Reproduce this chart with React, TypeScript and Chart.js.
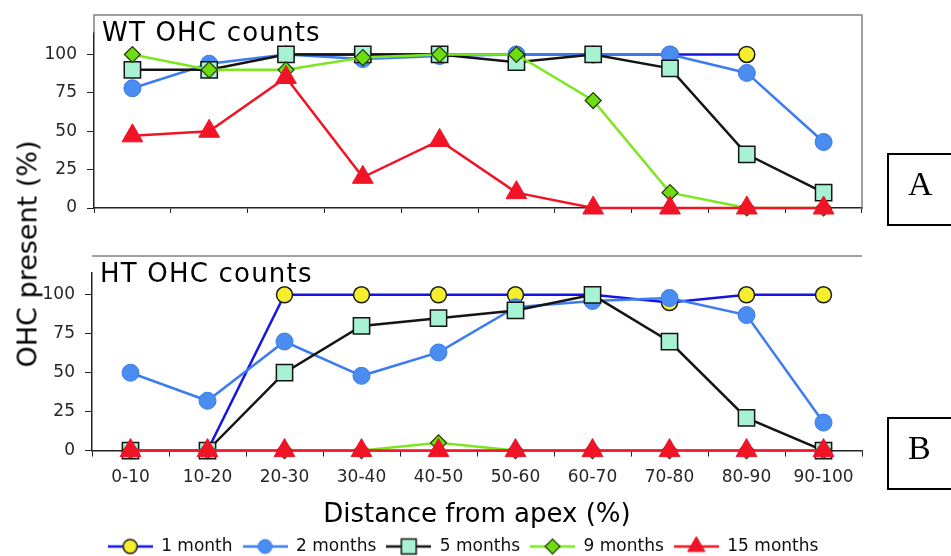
import React, { useEffect, useRef } from 'react';
import { Chart, registerables } from 'chart.js';
import { drawPoint } from 'chart.js/helpers';

Chart.register(...registerables);

// ---------- data ----------
const categories = ['0-10', '10-20', '20-30', '30-40', '40-50', '50-60', '60-70', '70-80', '80-90', '90-100'];
const seriesNames = ['1 month', '2 months', '5 months', '9 months', '15 months'];
const yTicks = [0, 25, 50, 75, 100];

// WT OHC counts (panel A)
const wt1m = [null, null, 100, 100, 100, 100, 100, 100, 100, null];
const wt2m = [78, 94, 100, 97, 99, 100, 100, 100, 88, 43];
const wt5m = [90, 90, 100, 100, 100, 95, 100, 91, 35, 10];
const wt9m = [100, 90, 90, 98, 100, 100, 70, 10, 0, 0];
const wt15m = [47, 50, 85, 20, 44, 10, 0, 0, 0, 0];

// HT OHC counts (panel B)
const ht1m = [0, 0, 100, 100, 100, 100, 100, 95, 100, 100];
const ht2m = [50, 32, 70, 48, 63, 92, 96, 98, 87, 18];
const ht5m = [0, 0, 50, 80, 85, 90, 100, 70, 21, 0];
const ht9m = [0, 0, 0, 0, 5, 0, 0, 0, 0, 0];
const ht15m = [0, 0, 0, 0, 0, 0, 0, 0, 0, 0];

const FAMILY = '"DejaVu Sans", sans-serif';

const styles = [
  { line: '#1414e6', fill: '#f4ee2c', border: '#1a1a1a', shape: 'circle', r: 8, bw: 1.5, lr: 7 },
  { line: '#3c7cf0', fill: '#4a8cf0', border: '#3a7ae8', shape: 'circle', r: 8.5, bw: 1, lr: 7 },
  { line: '#141414', fill: '#a6f2d2', border: '#141414', shape: 'rect', r: 11.5, bw: 1.5, lr: 10.5 },
  { line: '#7ce61e', fill: '#6edc10', border: '#1e3a08', shape: 'rectRot', r: 8, bw: 1.2, lr: 7.5 },
  { line: '#f01426', fill: '#f01426', border: '#f01426', shape: 'triangle', r: 12, bw: 1, lr: 10 },
];

function makeDatasets(values: (number | null)[][]) {
  return values.map((data, i) => ({
    label: seriesNames[i],
    data,
    borderColor: styles[i].line,
    backgroundColor: styles[i].fill,
    borderWidth: 2.5,
    pointStyle: styles[i].shape,
    pointRadius: styles[i].r,
    pointHoverRadius: styles[i].r,
    pointBackgroundColor: styles[i].fill,
    pointBorderColor: styles[i].border,
    pointBorderWidth: styles[i].bw,
    order: 5 - i,
    clip: false,
    tension: 0,
    fill: false,
  }));
}

function makeIcon(i: number) {
  const c = document.createElement('canvas');
  c.width = 45;
  c.height = 24;
  const ctx = c.getContext('2d')!;
  const s = styles[i];
  ctx.strokeStyle = s.line;
  ctx.lineWidth = 2.5;
  ctx.beginPath();
  ctx.moveTo(0, 12);
  ctx.lineTo(45, 12);
  ctx.stroke();
  ctx.fillStyle = s.fill;
  ctx.strokeStyle = s.border;
  ctx.lineWidth = s.bw;
  drawPoint(ctx, { pointStyle: s.shape as any, radius: s.lr, rotation: 0, borderWidth: s.bw }, 22.5, 12);
  return c;
}

function panelPlugin(title: string, mode: 'box' | 'line', gap: number) {
  return {
    id: 'panelDeco',
    afterDraw(chart: any) {
      const { ctx, chartArea: a } = chart;
      const top = a.top - gap;
      ctx.save();
      ctx.strokeStyle = '#808080';
      ctx.lineWidth = 1.5;
      ctx.beginPath();
      if (mode === 'box') {
        ctx.moveTo(a.left, a.top);
        ctx.lineTo(a.left, top);
        ctx.lineTo(a.right, top);
        ctx.lineTo(a.right, a.bottom);
      } else {
        ctx.moveTo(a.left, top);
        ctx.lineTo(a.right, top);
      }
      ctx.stroke();
      ctx.fillStyle = '#000';
      ctx.font = `26px ${FAMILY}`;
      (ctx as any).letterSpacing = '1.2px';
      ctx.textAlign = 'left';
      ctx.textBaseline = 'alphabetic';
      ctx.fillText(title, a.left + 8, top + 26);
      ctx.restore();
    },
  };
}

// nudges the legend box sideways so it sits where the reference legend sits
const legendShift = {
  id: 'legendShift',
  afterLayout(chart: any) {
    if (chart.legend) {
      chart.legend.left += 11;
      chart.legend.right += 11;
    }
  },
};

function yScale() {
  return {
    min: 0,
    max: 114,
    afterBuildTicks: (s: any) => {
      s.ticks = yTicks.map((v) => ({ value: v }));
    },
    afterFit: (s: any) => {
      s.width = 50;
    },
    ticks: { font: { family: FAMILY, size: 17 }, color: '#262626', padding: 10 },
    grid: { display: true, drawOnChartArea: false, drawTicks: true, tickLength: 7, color: '#222' },
    border: { display: true, color: '#222', width: 1.5 },
  };
}

export default function App() {
  const topRef = useRef<HTMLCanvasElement>(null);
  const botRef = useRef<HTMLCanvasElement>(null);

  useEffect(() => {
    const top = new Chart(topRef.current!, {
      type: 'line',
      data: { labels: categories, datasets: makeDatasets([wt1m, wt2m, wt5m, wt9m, wt15m]) as any },
      options: {
        responsive: false,
        animation: false,
        events: [],
        layout: { padding: { left: 44, right: 89, top: 33, bottom: 17 } },
        plugins: { legend: { display: false }, tooltip: { enabled: false }, title: { display: false } },
        scales: {
          x: {
            type: 'category',
            offset: true,
            ticks: { display: false },
            grid: { display: true, offset: true, drawOnChartArea: false, drawTicks: true, tickLength: 5, color: '#222' },
            border: { display: true, color: '#222', width: 1.5 },
          },
          y: yScale() as any,
        },
      },
      plugins: [panelPlugin('WT OHC counts', 'box', 18)],
    });

    const icons = styles.map((_, i) => makeIcon(i));

    const bottom = new Chart(botRef.current!, {
      type: 'line',
      data: { labels: categories, datasets: makeDatasets([ht1m, ht2m, ht5m, ht9m, ht15m]) as any },
      options: {
        responsive: false,
        animation: false,
        events: [],
        layout: { padding: { left: 42, right: 89, top: 33, bottom: 0 } },
        plugins: {
          tooltip: { enabled: false },
          title: { display: false },
          legend: {
            display: true,
            position: 'bottom',
            labels: {
              usePointStyle: true,
              pointStyleWidth: 45,
              padding: 10,
              color: '#111',
              font: { family: FAMILY, size: 17 },
              generateLabels: (chart: any) =>
                chart.data.datasets.map((ds: any, i: number) => ({
                  text: ds.label,
                  pointStyle: icons[i],
                  fillStyle: 'rgba(0,0,0,0)',
                  strokeStyle: 'rgba(0,0,0,0)',
                  lineWidth: 0,
                  hidden: false,
                  datasetIndex: i,
                  fontColor: '#111',
                })),
            },
          },
        },
        scales: {
          x: {
            type: 'category',
            offset: true,
            ticks: { display: true, font: { family: FAMILY, size: 17 }, color: '#262626', padding: 11, maxRotation: 0 },
            grid: { display: true, offset: true, drawOnChartArea: false, drawTicks: true, tickLength: 6, color: '#222' },
            border: { display: true, color: '#222', width: 1.5 },
            title: {
              display: true,
              text: 'Distance from apex (%)',
              color: '#000',
              font: { family: FAMILY, size: 26, lineHeight: 1 },
              padding: { top: 3, bottom: 0 },
            },
          },
          y: yScale() as any,
        },
      },
      plugins: [panelPlugin('HT OHC counts', 'line', 17), legendShift],
    });

    return () => {
      top.destroy();
      bottom.destroy();
    };
  }, []);

  const boxStyle: React.CSSProperties = {
    position: 'absolute',
    left: 887,
    width: 80,
    height: 73,
    border: '2px solid #000',
    boxSizing: 'border-box',
    fontFamily: '"Liberation Serif", "Times New Roman", serif',
    fontSize: 34,
    lineHeight: '58px',
    paddingLeft: 19,
    color: '#000',
  };

  return (
    <div style={{ position: 'fixed', left: 0, top: 0, width: 951, height: 556, overflow: 'hidden', background: '#fff' }}>
      <canvas ref={topRef} width={951} height={230} style={{ position: 'absolute', left: 0, top: 0, width: 951, height: 230 }} />
      <canvas ref={botRef} width={951} height={325} style={{ position: 'absolute', left: 0, top: 240, width: 951, height: 325 }} />
      <div
        style={{
          position: 'absolute',
          left: 27,
          top: 254,
          transform: 'translate(-50%, -50%) rotate(-90deg)',
          fontFamily: FAMILY,
          fontSize: 27,
          whiteSpace: 'nowrap',
          color: '#000',
        }}
      >
        OHC present (%)
      </div>
      <div style={{ ...boxStyle, top: 153 }}>A</div>
      <div style={{ ...boxStyle, top: 417 }}>B</div>
    </div>
  );
}
